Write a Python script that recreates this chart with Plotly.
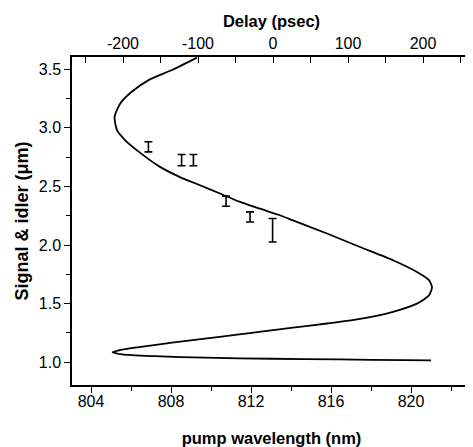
import plotly.graph_objects as go

# ---- data ----
# tuning curve: pump wavelength (nm) vs signal & idler wavelength (um)
curve_pump = [809.3, 808.05, 806.9, 806.05, 805.47, 805.18, 805.3, 805.7, 806.4,
              807.45, 808.45, 809.45, 810.45, 811.45, 812.45, 813.45, 814.1,
              815.8, 817.45, 819.1, 820.3, 820.9, 821.05, 820.9, 820.3, 819.1,
              817.45, 815.8, 814.1, 812.5, 811.4, 809.7, 808.05, 806.4, 805.55,
              805.08, 805.55, 807.2, 809.7, 813.05, 816.4, 819.7, 821.0]
curve_lambda = [3.600, 3.494, 3.41, 3.31, 3.21, 3.095, 2.98, 2.896, 2.795,
                2.667, 2.58, 2.51, 2.44, 2.368, 2.31, 2.254, 2.21,
                2.098, 1.983, 1.87, 1.77, 1.70, 1.64, 1.57, 1.50, 1.43,
                1.37, 1.33, 1.294, 1.26, 1.237, 1.20, 1.166, 1.128, 1.106,
                1.085, 1.066, 1.051, 1.038, 1.029, 1.023, 1.017, 1.015]

# measured points (error bars only)
meas_pump = [806.87, 808.53, 809.12, 810.75, 811.95, 813.08]
meas_lambda = [2.838, 2.725, 2.725, 2.374, 2.240, 2.126]
meas_err = [0.043, 0.048, 0.048, 0.043, 0.043, 0.100]

x_ticks = [804, 808, 812, 816, 820]
y_ticks = [1.0, 1.5, 2.0, 2.5, 3.0, 3.5]
delay_ticks = [-200, -100, 0, 100, 200]

x_range = [803.05, 823.0]
y_range = [0.805, 3.605]
delay_zero_nm = 813.1
ps_per_nm = 26.667
delay_range = [(x_range[0] - delay_zero_nm) * ps_per_nm,
               (x_range[1] - delay_zero_nm) * ps_per_nm]

FONT = "Liberation Sans"

fig = go.Figure()
fig.add_trace(go.Scatter(
    x=curve_pump, y=curve_lambda, mode="lines",
    line=dict(color="black", width=1.8, shape="spline", smoothing=0.6),
    showlegend=False, hoverinfo="skip"))
fig.add_trace(go.Scatter(
    x=meas_pump, y=meas_lambda, mode="markers",
    marker=dict(size=1, color="rgba(0,0,0,0)"),
    error_y=dict(type="data", array=meas_err, visible=True,
                 color="black", thickness=1.6, width=4),
    showlegend=False))
# helper traces to attach the top and right axes
fig.add_trace(go.Scatter(x=[], y=[], xaxis="x2", yaxis="y", showlegend=False))
fig.add_trace(go.Scatter(x=[], y=[], xaxis="x", yaxis="y2", showlegend=False))

tickfont = dict(family=FONT, size=16, color="black")
titlefont = dict(family=FONT, size=16.5, color="black", weight="bold")

# the page body adds an 8px margin, so the figure is sized to fill the window
fig.update_layout(
    width=465, height=439,
    margin=dict(l=64, r=2, t=49, b=62),
    paper_bgcolor="white", plot_bgcolor="white",
    showlegend=False,
    xaxis=dict(
        range=x_range, tickvals=x_ticks, ticktext=[str(v) for v in x_ticks],
        ticks="outside", ticklen=6, tickwidth=1.2, tickcolor="black",
        minor=dict(ticks="outside", ticklen=4, dtick=2, tick0=804,
                   tickcolor="black", tickwidth=1.2),
        showline=True, linecolor="black", linewidth=1.5, mirror=True,
        showgrid=False, zeroline=False, tickfont=tickfont, automargin=False,
        ticklabelstandoff=-5,
        title=dict(text="pump wavelength (nm)", font=titlefont, standoff=24),
    ),
    xaxis2=dict(
        overlaying="x", side="top", anchor="y",
        range=delay_range, tickvals=delay_ticks,
        ticktext=[str(v) for v in delay_ticks],
        ticks="inside", ticklen=6, tickwidth=1.2, tickcolor="black",
        minor=dict(ticks="inside", ticklen=6, dtick=50, tick0=0,
                   tickcolor="black", tickwidth=1.2),
        showline=False, showgrid=False, zeroline=False, tickfont=tickfont,
        ticklabelstandoff=4, automargin=False,
        title=dict(text="Delay (psec)", font=titlefont, standoff=3),
    ),
    yaxis=dict(
        range=y_range, tickvals=y_ticks, ticktext=[f"{v:.1f}" for v in y_ticks],
        ticks="outside", ticklen=6, tickwidth=1.2, tickcolor="black",
        minor=dict(ticks="outside", ticklen=4, dtick=0.25, tick0=1.0,
                   tickcolor="black", tickwidth=1.2),
        showline=True, linecolor="black", linewidth=1.5, mirror=True,
        showgrid=False, zeroline=False, tickfont=tickfont, automargin=False,
        title=dict(text="Signal &amp; idler (μm)",
                   font=dict(family=FONT, size=18, color="black", weight="bold"),
                   standoff=5),
    ),
    yaxis2=dict(
        overlaying="y", side="right", anchor="x",
        range=y_range, dtick=0.25, tick0=1.0,
        ticks="inside", ticklen=5, tickwidth=1.2, tickcolor="black",
        showticklabels=False, showline=False, showgrid=False, zeroline=False,
        automargin=False,
    ),
)

fig.write_html("out.html")
